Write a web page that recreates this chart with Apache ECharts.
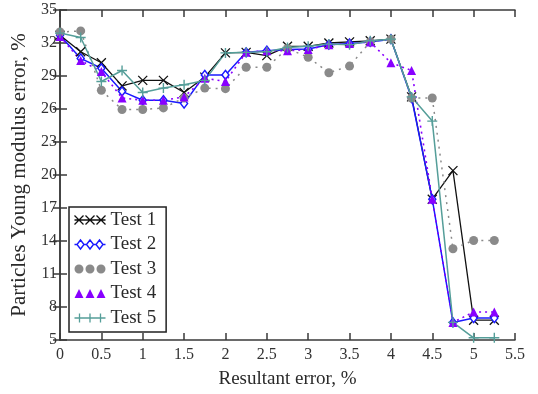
<!DOCTYPE html>
<html>
<head>
<meta charset="utf-8">
<script src="https://cdn.jsdelivr.net/npm/echarts@6/dist/echarts.min.js"></script>
<style>
  html, body { margin: 0; padding: 0; background: #fff; }
  #chart { width: 538px; height: 394px; }
</style>
</head>
<body>
<div id="chart"></div>
<script>
const xValues = [0, 0.25, 0.5, 0.75, 1, 1.25, 1.5, 1.75, 2, 2.25, 2.5, 2.75, 3, 3.25, 3.5, 3.75, 4, 4.25, 4.5, 4.75, 5, 5.25];

const test1 = [32.7, 31.2, 30.2, 28.1, 28.6, 28.6, 27.5, 28.9, 31.1, 31.15, 30.85, 31.7, 31.7, 32.0, 32.1, 32.2, 32.35, 27.1, 17.8, 20.4, 6.8, 6.8];
const test2 = [32.7, 30.6, 29.7, 27.6, 26.8, 26.8, 26.5, 29.1, 29.1, 31.15, 31.3, 31.4, 31.45, 31.85, 31.95, 32.1, 32.35, 27.0, 17.8, 6.6, 7.0, 7.0];
const test3 = [33.0, 33.1, 27.7, 25.95, 25.95, 26.1, 27.0, 27.9, 27.85, 29.8, 29.8, 31.5, 30.7, 29.3, 29.9, 32.1, 32.35, 27.0, 27.0, 13.3, 14.05, 14.05];
const test4 = [32.6, 30.4, 29.4, 27.0, 26.8, 26.8, 27.1, 28.8, 28.5, 31.15, 31.3, 31.3, 31.4, 31.85, 31.95, 32.1, 30.2, 29.5, 17.8, 6.6, 7.55, 7.55];
const test5 = [32.9, 32.5, 28.5, 29.5, 27.5, 27.9, 28.2, 28.6, 31.1, 31.15, 31.2, 31.6, 31.7, 31.9, 31.85, 32.2, 32.35, 27.1, 24.9, 6.6, 5.2, 5.2];

const seriesNames = ['Test 1', 'Test 2', 'Test 3', 'Test 4', 'Test 5'];

const FONT = 'Liberation Serif';
const AXIS_COLOR = '#3a3a3a';
const TEXT_COLOR = '#2a2a2a';

const C1 = '#111111';
const C2 = '#1a1aff';
const C3 = '#8a8a8a';
const C4 = '#8800ff';
const C5 = '#559e99';

// legend icons: three markers in a row, like the plotting program draws them
const ICON1 = 'path://M0,4.5L31,4.5M0,0L9,9M9,0L0,9M11,0L20,9M20,0L11,9M22,0L31,9M31,0L22,9';
const ICON2 = 'path://M0,4.5L2.5,4.5M9.5,4.5L12,4.5M19,4.5L21.5,4.5M28.5,4.5L31,4.5' +
  'M6,0L9.5,4.5L6,9L2.5,4.5ZM15.5,0L19,4.5L15.5,9L12,4.5ZM25,0L28.5,4.5L25,9L21.5,4.5Z';
const ICON3 = 'path://M0,4.5A4.5,4.5 0 1 0 9,4.5A4.5,4.5 0 1 0 0,4.5Z' +
  'M11,4.5A4.5,4.5 0 1 0 20,4.5A4.5,4.5 0 1 0 11,4.5Z' +
  'M22,4.5A4.5,4.5 0 1 0 31,4.5A4.5,4.5 0 1 0 22,4.5Z';
const ICON4 = 'path://M0,9L4.5,0L9,9ZM11,9L15.5,0L20,9ZM22,9L26.5,0L31,9Z';
const ICON5 = 'path://M0,4.5L31,4.5M5,0L5,9M15.5,0L15.5,9M26,0L26,9';

const pairs = (ys) => xValues.map((x, i) => [x, ys[i]]);

const chart = echarts.init(document.getElementById('chart'));

const axisLine = { show: true, lineStyle: { color: AXIS_COLOR, width: 1.5 } };
const axisTick = { show: true, inside: true, length: 7, lineStyle: { color: AXIS_COLOR, width: 1.5 } };

const xBase = { type: 'value', min: 0, max: 5.5, interval: 0.5, splitLine: { show: false }, axisLine, axisTick };
const yBase = { type: 'value', min: 5, max: 35, interval: 3, splitLine: { show: false }, axisLine, axisTick };

chart.setOption({
  animation: false,
  textStyle: { fontFamily: FONT },
  grid: { left: 60, right: 23, top: 10, bottom: 52 },
  legend: {
    orient: 'vertical',
    left: 69,
    top: 207,
    data: [
      { name: seriesNames[0], icon: ICON1, itemStyle: { color: 'none', borderColor: C1, borderWidth: 1.3 } },
      { name: seriesNames[1], icon: ICON2, itemStyle: { color: '#fff', borderColor: C2, borderWidth: 1.4 } },
      { name: seriesNames[2], icon: ICON3, itemStyle: { color: C3, borderWidth: 0 } },
      { name: seriesNames[3], icon: ICON4, itemStyle: { color: C4, borderWidth: 0 } },
      { name: seriesNames[4], icon: ICON5, itemStyle: { color: 'none', borderColor: C5, borderWidth: 1.3 } },
    ],
    itemWidth: 31,
    itemHeight: 9,
    itemGap: 4.5,
    padding: [3, 10, 4, 3],
    borderColor: '#222',
    borderWidth: 1.5,
    backgroundColor: '#fff',
    textStyle: { fontFamily: FONT, fontSize: 19, color: TEXT_COLOR, lineHeight: 20 },
  },
  xAxis: [
    {
      ...xBase,
      position: 'bottom',
      name: 'Resultant error, %',
      nameLocation: 'middle',
      nameGap: 30,
      nameTextStyle: { fontFamily: FONT, fontSize: 19, color: TEXT_COLOR },
      axisLabel: { fontFamily: FONT, fontSize: 16, color: '#333', margin: 7 },
    },
    { ...xBase, position: 'top', axisLabel: { show: false } },
  ],
  yAxis: [
    {
      ...yBase,
      position: 'left',
      name: 'Particles Young modulus error, %',
      nameLocation: 'middle',
      nameGap: 28,
      nameTextStyle: { fontFamily: FONT, fontSize: 21, color: TEXT_COLOR },
      axisLabel: { fontFamily: FONT, fontSize: 16, color: '#333', margin: 3 },
    },
    { ...yBase, position: 'right', axisLabel: { show: false } },
  ],
  series: [
    {
      name: 'Test 1',
      type: 'line',
      data: pairs(test1),
      symbol: 'path://M0,0L10,10M10,0L0,10',
      symbolSize: 9,
      lineStyle: { color: C1, width: 1.3 },
      itemStyle: { color: C1, borderColor: C1, borderWidth: 1.3 },
    },
    {
      name: 'Test 2',
      type: 'line',
      data: pairs(test2),
      symbol: 'diamond',
      symbolSize: [7, 9],
      lineStyle: { color: C2, width: 1.5 },
      itemStyle: { color: '#fff', borderColor: C2, borderWidth: 1.5 },
    },
    {
      name: 'Test 3',
      type: 'line',
      data: pairs(test3),
      symbol: 'circle',
      symbolSize: 9,
      lineStyle: { color: C3, width: 1.5, type: [2, 5] },
      itemStyle: { color: C3 },
    },
    {
      name: 'Test 4',
      type: 'line',
      data: pairs(test4),
      symbol: 'triangle',
      symbolSize: 9,
      lineStyle: { color: C4, width: 1.6, type: [2, 4] },
      itemStyle: { color: C4 },
    },
    {
      name: 'Test 5',
      type: 'line',
      data: pairs(test5),
      symbol: 'path://M5,0L5,10M0,5L10,5',
      symbolSize: 10,
      lineStyle: { color: C5, width: 1.5 },
      itemStyle: { color: C5, borderColor: C5, borderWidth: 1.4 },
    },
  ],
});
</script>
</body>
</html>
